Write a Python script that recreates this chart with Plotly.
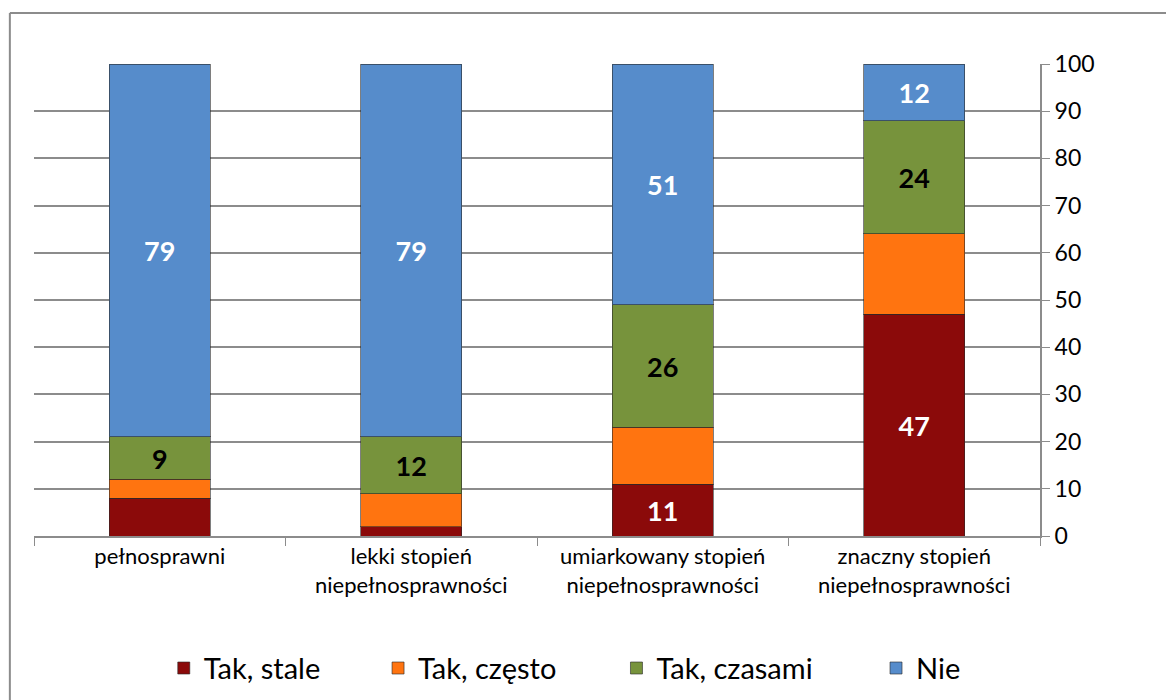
import plotly.graph_objects as go

categories = ["pełnosprawni", "lekki stopień<br>niepełnosprawności",
              "umiarkowany stopień<br>niepełnosprawności", "znaczny stopień<br>niepełnosprawności"]

tak_stale = [8, 2, 11, 47]
tak_czesto = [4, 7, 12, 17]
tak_czasami = [9, 12, 26, 24]
nie = [79, 79, 51, 12]

# which values get a data label (as in the original)
show_stale = [False, False, True, True]
show_czesto = [False, False, False, False]
show_czasami = [True, True, True, True]
show_nie = [True, True, True, True]

series = [
    ("Tak, stale", tak_stale, show_stale, "#8B0A0A", "white"),
    ("Tak, często", tak_czesto, show_czesto, "#FF7410", "white"),
    ("Tak, czasami", tak_czasami, show_czasami, "#77933C", "black"),
    ("Nie", nie, show_nie, "#568CCB", "white"),
]

FONT = "Lato, 'Open Sans', sans-serif"
legend_x = [0.129, 0.342, 0.579, 0.837]

fig = go.Figure()
for i, (name, vals, show, color, txtcol) in enumerate(series):
    fig.add_trace(go.Bar(
        x=categories,
        y=vals,
        name=name,
        showlegend=True,
        legend="legend" if i == 0 else f"legend{i + 1}",
        marker=dict(color=color, line=dict(color="rgba(40,40,40,0.6)", width=1)),
        text=[str(v) if s else "" for v, s in zip(vals, show)],
        textposition="inside",
        insidetextanchor="middle",
        textangle=0,
        textfont=dict(family=FONT, size=27, color=txtcol, weight="bold"),
        width=0.4,
    ))

legends = {}
for i, lx in enumerate(legend_x):
    key = "legend" if i == 0 else f"legend{i + 1}"
    legends[key] = dict(
        orientation="h",
        x=lx, xanchor="left",
        y=-0.28, yanchor="middle",
        font=dict(size=29),
        itemwidth=30,
        bgcolor="rgba(0,0,0,0)",
    )

fig.update_layout(
    barmode="stack",
    showlegend=True,
    width=1174,
    height=700,
    margin=dict(l=26, r=142, t=56, b=172),
    paper_bgcolor="white",
    plot_bgcolor="white",
    font=dict(family=FONT, color="black"),
    uniformtext=dict(mode="show", minsize=10),
    xaxis=dict(
        tickson="boundaries",
        ticks="outside",
        ticklen=8,
        tickcolor="#8C8C8C",
        showline=True,
        linecolor="#8C8C8C",
        linewidth=2,
        tickfont=dict(size=22),
        showgrid=False,
    ),
    yaxis=dict(
        side="right",
        range=[0, 100],
        dtick=10,
        showgrid=True,
        gridcolor="#8C8C8C",
        gridwidth=1.5,
        showline=True,
        linecolor="#8C8C8C",
        linewidth=2,
        ticks="outside",
        ticklen=8,
        tickcolor="#8C8C8C",
        tickfont=dict(size=23),
        zeroline=False,
    ),
    shapes=[
        dict(type="line", xref="paper", yref="paper", x0=-0.024, x1=1.2, y0=1.108, y1=1.108,
             line=dict(color="#8C8C8C", width=2)),
        dict(type="line", xref="paper", yref="paper", x0=-0.024, x1=-0.024, y0=1.108, y1=-0.4,
             line=dict(color="#8C8C8C", width=2)),
    ],
    **legends,
)

fig.write_html("out.html")
